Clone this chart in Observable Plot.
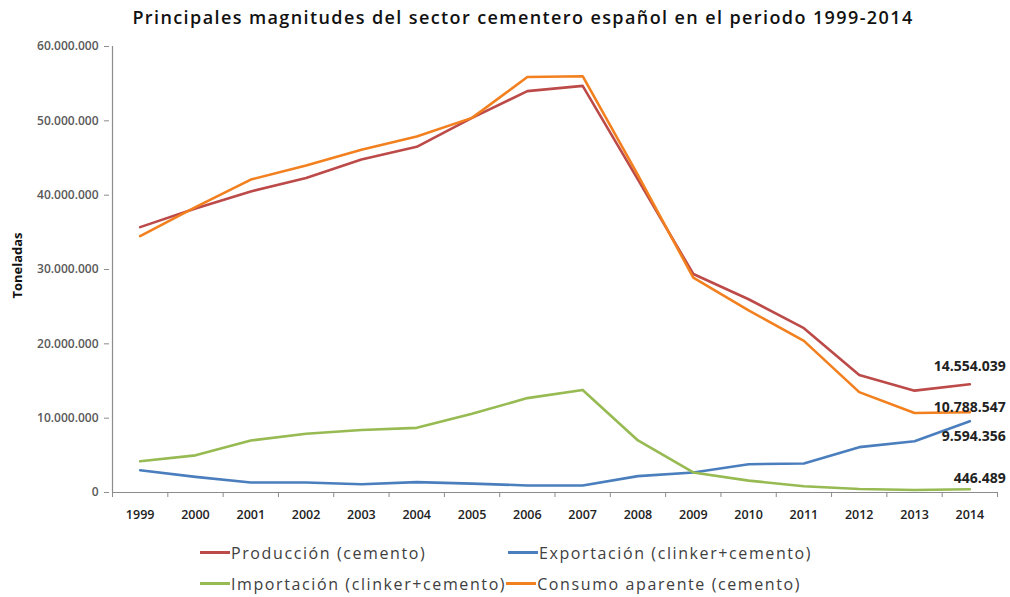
<!DOCTYPE html>
<html><head><meta charset="utf-8">
<script src="https://cdn.jsdelivr.net/npm/d3@7"></script>
<script src="https://cdn.jsdelivr.net/npm/@observablehq/plot@0.6"></script>
<style>
body{margin:0;background:#fff;font-family:"Open Sans",sans-serif;}
#wrap{position:relative;width:1010px;height:597px;overflow:hidden;background:#fff}
#title{position:absolute;left:36px;width:974px;top:5px;text-align:center;font-size:18px;font-weight:600;letter-spacing:1.4px;color:#111;white-space:nowrap}
#chart{position:absolute;left:0;top:36px}
#legend{position:absolute;left:200px;top:537px;font-size:16px;color:#404040;letter-spacing:1.6px}
.row{display:flex;align-items:center;height:31px;white-space:nowrap}
.item{display:flex;align-items:center}
.sw{display:inline-block;width:30px;height:3px;margin-right:1px}
</style></head>
<body><div id="wrap"><div id="title"></div><div id="chart"></div><div id="legend"></div></div>
<script>
const titleText = "Principales magnitudes del sector cementero español en el periodo 1999-2014";
const yLabel = "Toneladas";
const years = [1999,2000,2001,2002,2003,2004,2005,2006,2007,2008,2009,2010,2011,2012,2013,2014];
const produccion  = [35700000,38200000,40500000,42300000,44800000,46500000,50400000,54000000,54700000,42100000,29400000,26000000,22100000,15800000,13700000,14554039];
const exportacion = [3000000,2100000,1350000,1350000,1100000,1400000,1200000,950000,950000,2200000,2700000,3800000,3900000,6100000,6900000,9594356];
const importacion = [4200000,5000000,7000000,7900000,8400000,8700000,10600000,12700000,13800000,7000000,2700000,1600000,850000,480000,340000,446489];
const consumo     = [34500000,38400000,42100000,44000000,46100000,47900000,50400000,55900000,56000000,42700000,28900000,24500000,20400000,13500000,10700000,10788547];
const seriesNames = ["Producción (cemento)","Exportación (clinker+cemento)","Importación (clinker+cemento)","Consumo aparente (cemento)"];
const seriesValues = [produccion, exportacion, importacion, consumo];
const yTicks = [0,10000000,20000000,30000000,40000000,50000000,60000000];

const colors = ["#BC4A48","#4A7EBD","#97BA52","#F2801F"];
const labelDy = [-18, 15, -11, -5];

const es = d3.formatLocale({decimal:",", thousands:".", grouping:[3], currency:["","€"]});
const fmt = es.format(",d");

const rows = [];
seriesNames.forEach((s,i)=>years.forEach((y,j)=>rows.push({serie:s, year:y, value:seriesValues[i][j]})));
const bounds = years.map(y=>y-0.5).concat([years[years.length-1]+0.5]);

document.getElementById("title").textContent = titleText;

const lastMarks = seriesNames.map((s,i)=>Plot.text([{year:years[years.length-1], value:seriesValues[i][years.length-1]}], {
  x:"year", y:"value", text:d=>fmt(d.value), textAnchor:"end", dx:36, dy:labelDy[i],
  fontSize:14, fontWeight:700, fill:"#222", letterSpacing:"0.9px"
}));

const chart = Plot.plot({
  width:1010, height:505,
  marginLeft:112, marginRight:13, marginTop:10, marginBottom:49,
  style:{fontFamily:"Open Sans", background:"#fff", overflow:"visible"},
  x:{type:"linear", domain:[bounds[0], bounds[bounds.length-1]]},
  y:{domain:[0,60000000]},
  marks:[
    Plot.ruleX([bounds[0]], {stroke:"#8c8c8c", strokeWidth:1.2}),
    Plot.ruleY([0], {stroke:"#8c8c8c", strokeWidth:1.2}),
    Plot.axisY(yTicks, {tickSize:5, tickPadding:6, tickFormat:fmt, stroke:"#8c8c8c", fill:"#595959", fontSize:12, fontWeight:600, label:null, dx:-3, letterSpacing:"0.4px"}),
    Plot.axisX(bounds, {tickSize:5, tickFormat:()=>"", stroke:"#8c8c8c", label:null}),
    Plot.axisX(years, {tickSize:0, tickPadding:18, tickFormat:d=>String(d), fill:"#222", fontSize:12.5, fontWeight:600, label:null}),
    Plot.line(rows, {x:"year", y:"value", z:"serie", stroke:d=>colors[seriesNames.indexOf(d.serie)], strokeWidth:2.6, strokeLinejoin:"round"}),
    ...lastMarks,
    Plot.text([yLabel], {frameAnchor:"left", textAnchor:"middle", rotate:-90, dx:-95, dy:-4, fontSize:13, fontWeight:700, fill:"#111", letterSpacing:"0.6px"})
  ]
});
document.getElementById("chart").appendChild(chart);

const legend = document.getElementById("legend");
const order = [[0,1],[2,3]];
order.forEach((r,ri)=>{
  const row = document.createElement("div"); row.className="row";
  r.forEach((i,k)=>{
    const it = document.createElement("div"); it.className="item";
    if (ri===0 && k===0) it.style.width = "308px";
    const sw = document.createElement("span"); sw.className="sw"; sw.style.background = colors[i];
    const tx = document.createElement("span"); tx.textContent = seriesNames[i];
    it.appendChild(sw); it.appendChild(tx); row.appendChild(it);
  });
  legend.appendChild(row);
});
</script>
</body></html>
